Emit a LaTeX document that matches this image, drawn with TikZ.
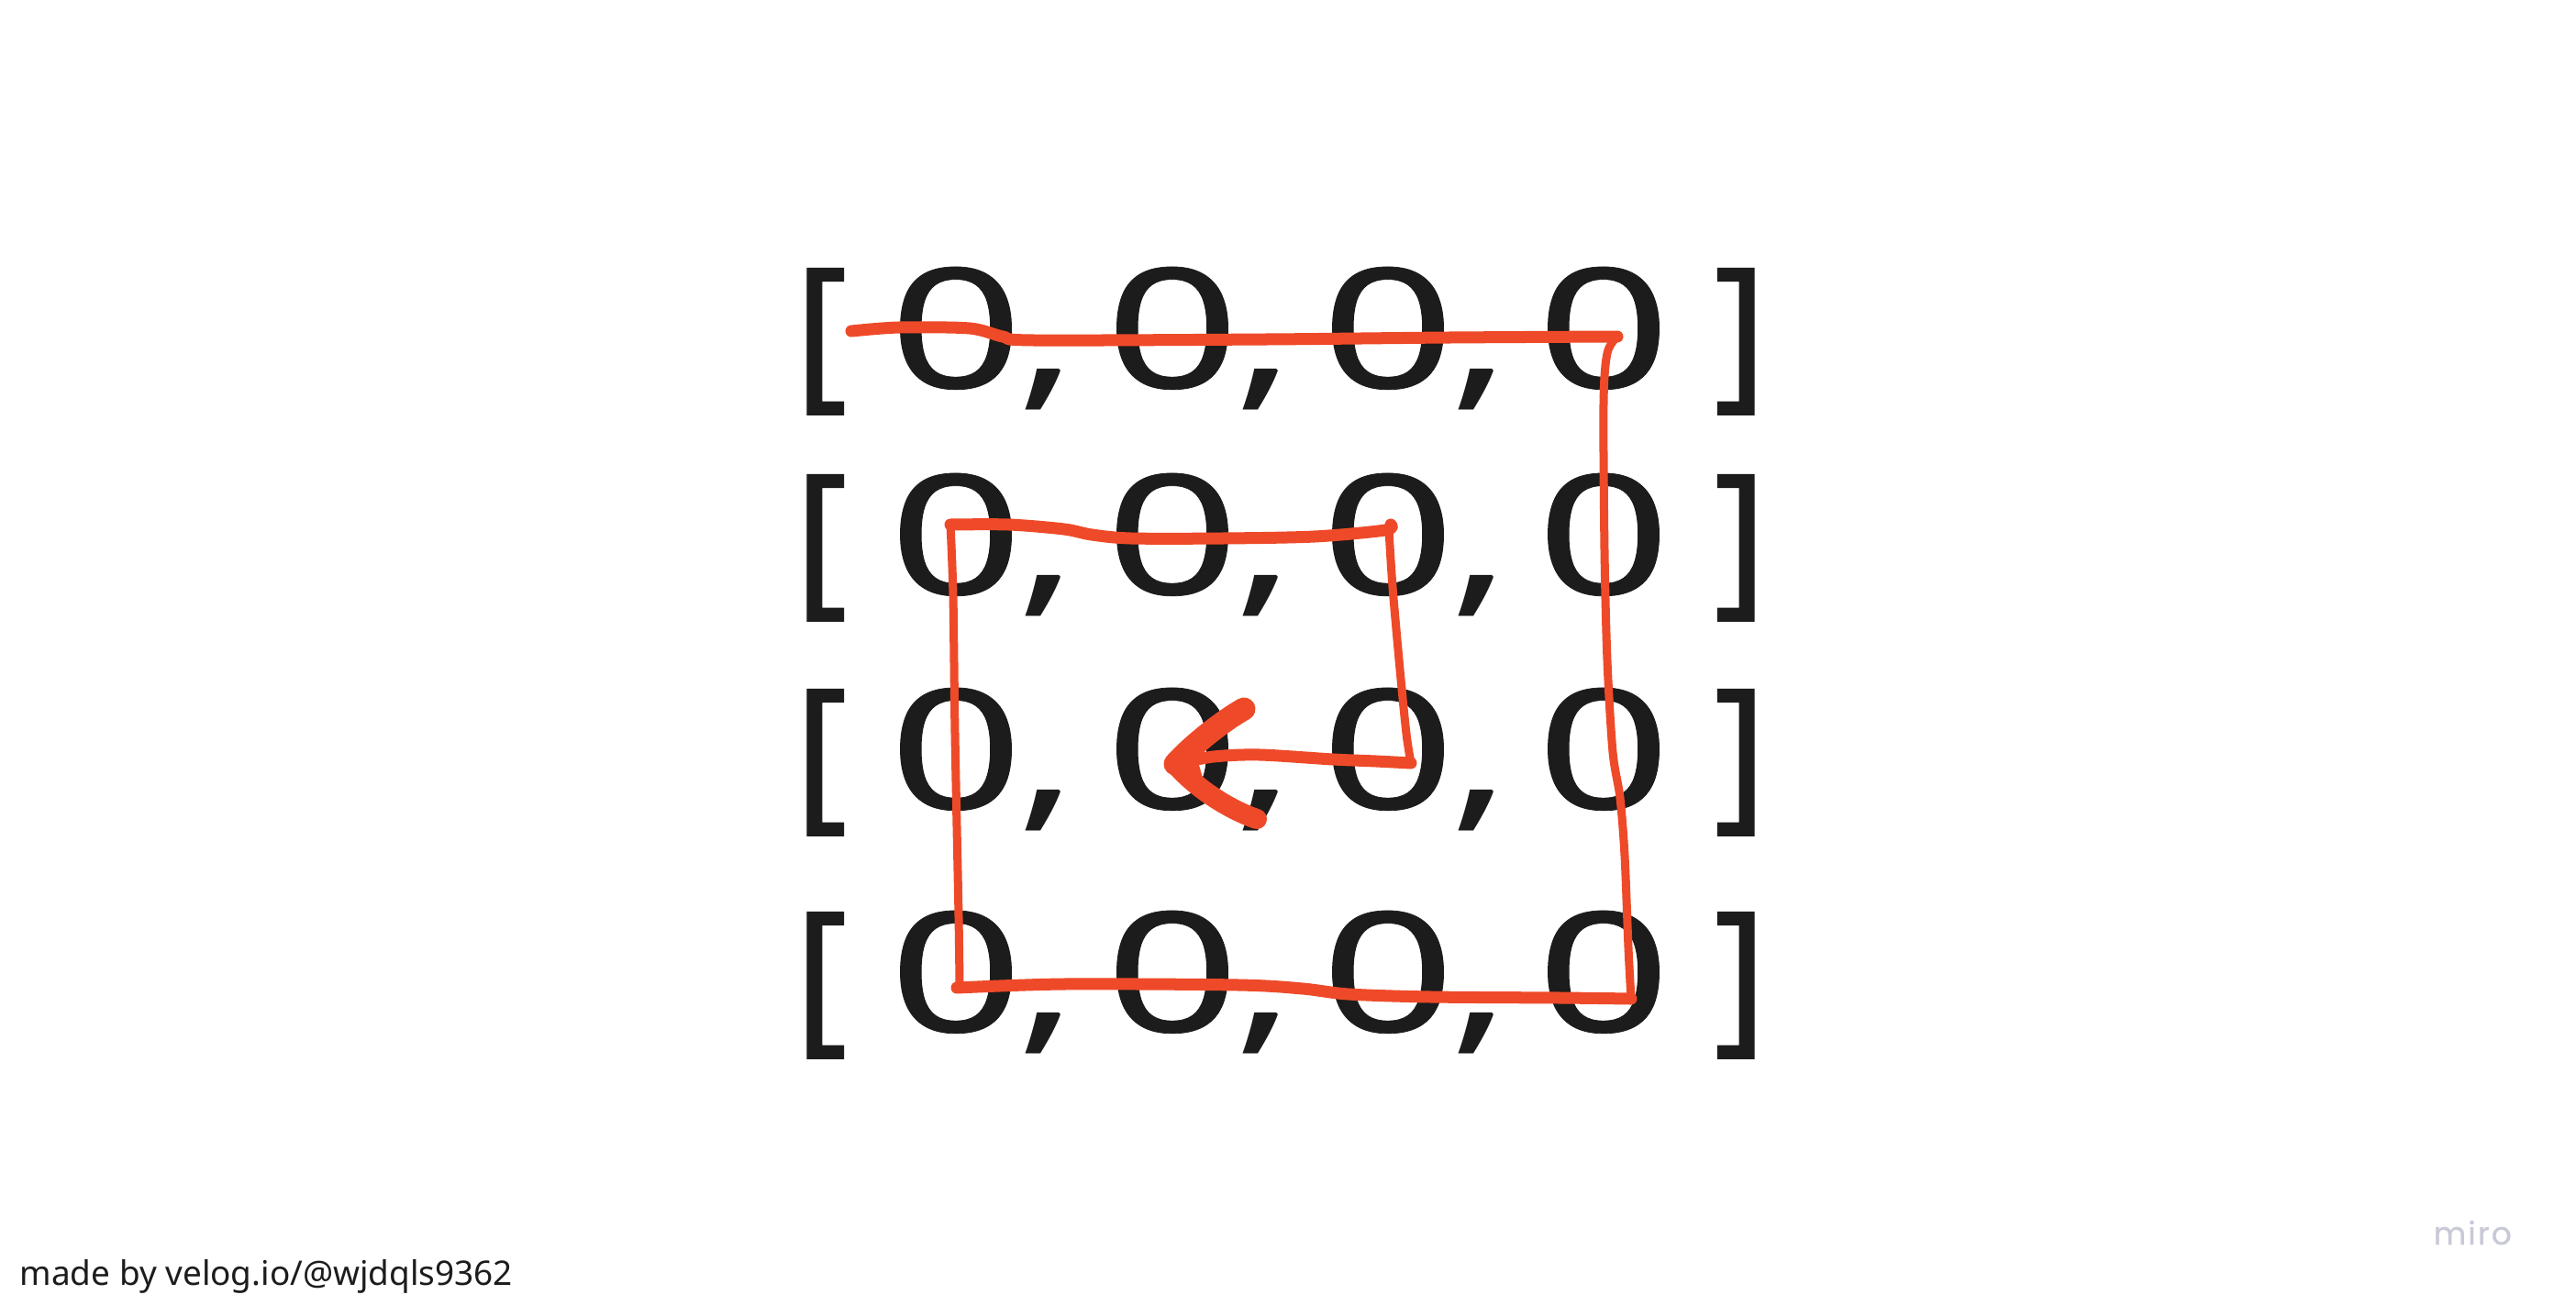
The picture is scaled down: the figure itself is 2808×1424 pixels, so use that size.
\documentclass[tikz,border=0pt]{standalone}
\usepackage{graphicx}
\usepackage{fontspec}
\setmainfont{Noto Sans}
\newfontfamily\mirofont{Poppins}[LetterSpace=6,FakeBold=0.8]
\definecolor{ink}{HTML}{1C1C1C}
\definecolor{pen}{HTML}{EE4A29}
\definecolor{mirogray}{HTML}{C8C9D7}
\begin{document}
\begin{tikzpicture}[x=0.01cm,y=-0.01cm,
  glyph/.style={inner sep=0pt, outer sep=0pt, anchor=base, text=ink,
    font=\fontsize{51.8pt}{60pt}\selectfont},
  penthick/.style={draw=pen, line width=0.13cm, line cap=round, line join=round},
  penthin/.style={draw=pen, line width=0.09cm, line cap=round, line join=round},
  penbarbup/.style={draw=pen, line width=0.25cm, line cap=round, line join=round},
  penbarbdn/.style={draw=pen, line width=0.22cm, line cap=round, line join=round}]
\useasboundingbox (0,0) rectangle (2808,1424);
\fill[white] (0,0) rectangle (2808,1424);

% matrix text
\foreach \r/\b in {1/423, 2/648, 3/882, 4/1125} {
  \node[glyph] (lb\r) at (895,\b) {\scalebox{0.95}[1]{\addfontfeature{FakeBold=1.2}[}};
  \node[glyph] (rb\r) at (1897,\b) {\scalebox{0.95}[1]{\addfontfeature{FakeBold=1.2}]}};
  \foreach \c/\x in {1/1042, 2/1278, 3/1513, 4/1748}
    \node[glyph] (d\r\c) at (\x,\b) {\scalebox{1.4}[1]{\addfontfeature{FakeBold=0.4}0}};
  \foreach \c/\x in {1/1142, 2/1379, 3/1614}
    \node[glyph] (c\r\c) at (\x,\b) {\scalebox{1.4}[1]{,}};
}

% spiral corners
\coordinate (s0) at (928,361);
\coordinate (s1) at (1763,367);
\coordinate (s2) at (1778,1089);
\coordinate (s3) at (1043,1077);
\coordinate (s4) at (1036,572);
\coordinate (s5) at (1516,576);
\coordinate (s6) at (1538,832);
\coordinate (tip) at (1281,833);
\coordinate (barbup) at (1356,773);
\coordinate (barbdn) at (1370,893);

% top line
\draw[penthick] plot[smooth, tension=0.5] coordinates {(928,361) (980,357) (1057,358) (1093,367) (1127,371) (1380,370) (1580,368) (1763,367)};
% right vertical
\draw[penthin] plot[smooth, tension=0.5] coordinates {(1763,367) (1752,385) (1748,440) (1749,600) (1752,720) (1758,820) (1766,870) (1771,933) (1775,1033) (1778,1089)};
% bottom line
\draw[penthick] plot[smooth, tension=0.5] coordinates {(1778,1089) (1700,1088) (1560,1087) (1470,1084) (1420,1078) (1350,1074) (1160,1073) (1043,1077)};
% left vertical
\draw[penthin] plot[smooth, tension=0.5] coordinates {(1046,1076) (1045,1000) (1041,800) (1039,650) (1036,572)};
% second row line
\draw[penthick] plot[smooth, tension=0.5] coordinates {(1036,572) (1100,572) (1160,577) (1190,583) (1233,587) (1333,587) (1433,585) (1510,578) (1516,572)};
% inner vertical
\draw[penthin] plot[smooth, tension=0.5] coordinates {(1514,578) (1518,640) (1526,730) (1533,800) (1538,832)};
% arrow shaft
\draw[penthick] plot[smooth, tension=0.5] coordinates {(1538,832) (1500,830) (1453,828) (1373,823) (1323,825) (1281,833)};
% arrow barbs
\draw[penbarbup] (tip) .. controls (1300,812) and (1333,786) .. (barbup);
\draw[penbarbdn] (tip) .. controls (1302,858) and (1338,882) .. (barbdn);
\fill[pen] (tip) -- (1302,816) -- (1312,852) -- cycle;

% footer
\node[inner sep=0pt, anchor=base west, text=ink, font=\fontsize{10.5pt}{12pt}\selectfont] (credit) at (21,1401) {made by velog.io/@wjdqls9362};
\node[inner sep=0pt, anchor=base west, text=mirogray, font=\mirofont\fontsize{9.8pt}{11pt}\selectfont] (miro) at (2652,1357) {miro};
\end{tikzpicture}
\end{document}
